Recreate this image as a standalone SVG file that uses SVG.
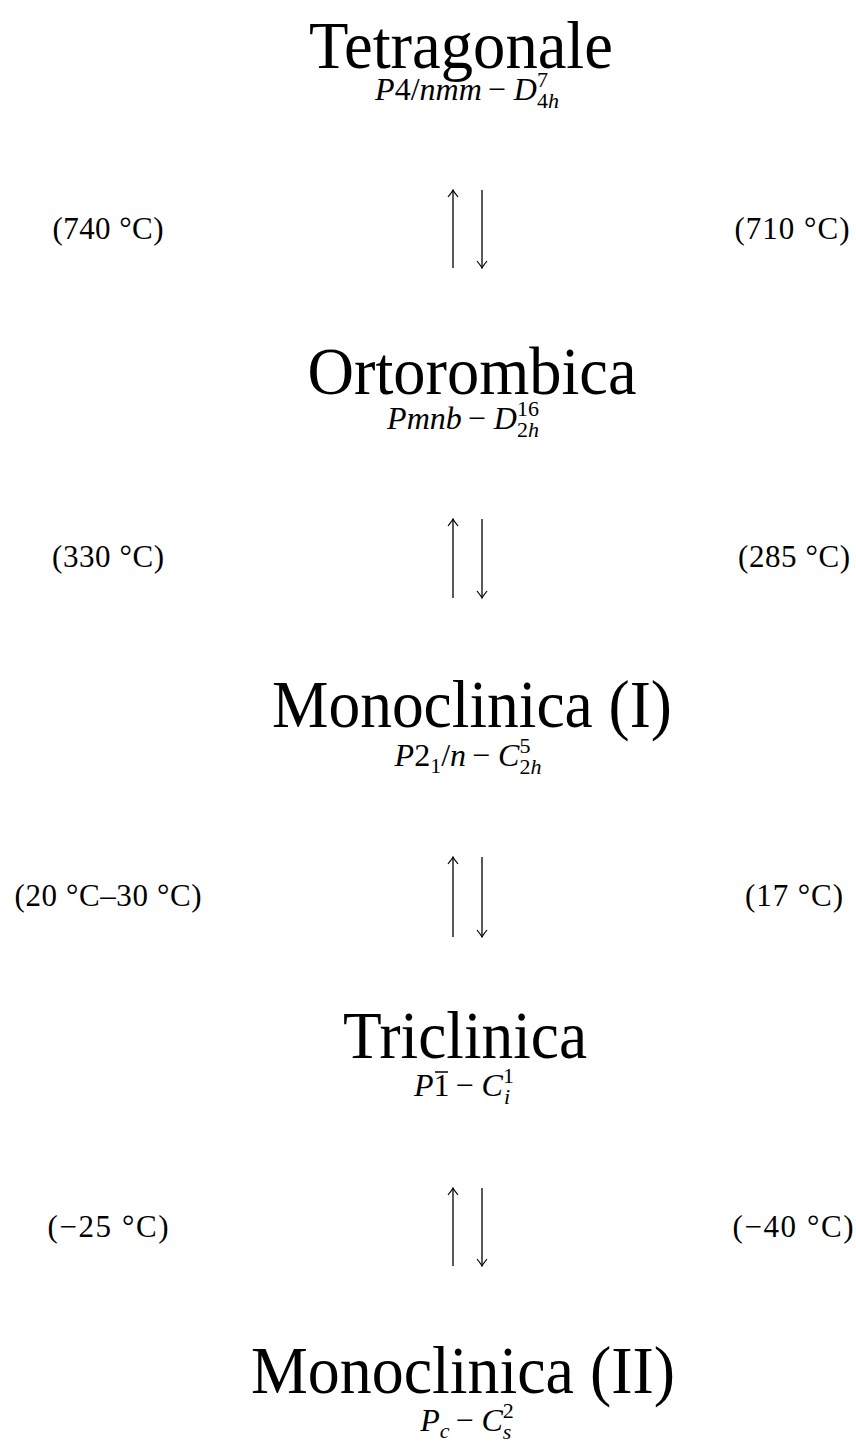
<svg xmlns="http://www.w3.org/2000/svg" width="856" height="1444" viewBox="0 0 856 1444">
<style>
text{font-family:"Liberation Serif","Times New Roman",serif;fill:#000}
.t{font-size:68px;text-anchor:middle}
.s{font-size:32px;text-anchor:middle}
.l{font-size:31px;text-anchor:middle}
.i{font-style:italic}
.sm{font-size:22px}
.arr{stroke:#000;stroke-width:1.3;fill:none}
</style>
<defs>
<marker id="ah" viewBox="-8 -6 10 12" markerWidth="10" markerHeight="12" refX="0" refY="0" orient="auto" markerUnits="userSpaceOnUse">
<path d="M-7,-5 Q-2,-1 0,0 Q-2,1 -7,5" fill="none" stroke="#000" stroke-width="1.2"/>
</marker>
</defs>
<rect width="856" height="1444" fill="#fff"/>

<g id="tetragonale">
<text class="t" x="461" y="68" textLength="304" lengthAdjust="spacingAndGlyphs">Tetragonale</text>
<text class="s" x="467" y="100"><tspan class="i">P</tspan>4/<tspan class="i">nmm</tspan><tspan dx="6">−</tspan><tspan class="i" dx="8">D</tspan><tspan class="sm" dy="-13">7</tspan><tspan class="sm" dx="-11" dy="21">4<tspan class="i">h</tspan></tspan></text>
</g>

<g id="ortorombica">
<text class="t" x="472" y="394" textLength="329" lengthAdjust="spacingAndGlyphs">Ortorombica</text>
<text class="s" x="463" y="429"><tspan class="i">Pmnb</tspan><tspan dx="6">−</tspan><tspan class="i" dx="8">D</tspan><tspan class="sm" dy="-13">16</tspan><tspan class="sm" dx="-22" dy="21">2<tspan class="i">h</tspan></tspan></text>
</g>

<g id="monoclinica1">
<text class="t" x="472" y="727" textLength="400" lengthAdjust="spacingAndGlyphs">Monoclinica (I)</text>
<text class="s" x="468" y="766"><tspan class="i">P</tspan>2<tspan class="sm" dy="7">1</tspan><tspan dy="-7">/</tspan><tspan class="i">n</tspan><tspan dx="6">−</tspan><tspan class="i" dx="8">C</tspan><tspan class="sm" dy="-13">5</tspan><tspan class="sm" dx="-11" dy="21">2<tspan class="i">h</tspan></tspan></text>
</g>

<g id="triclinica">
<text class="t" x="465" y="1058" textLength="244" lengthAdjust="spacingAndGlyphs">Triclinica</text>
<text x="414" y="1096" font-size="32"><tspan class="i">P</tspan>1<tspan dx="6">−</tspan><tspan class="i" dx="8">C</tspan><tspan class="sm" dy="-13">1</tspan><tspan class="sm i" dx="-10" dy="21">i</tspan></text>
<line x1="435" y1="1072" x2="448" y2="1072" stroke="#000" stroke-width="1.5"/>
</g>

<g id="monoclinica2">
<text class="t" x="463" y="1393" textLength="424" lengthAdjust="spacingAndGlyphs">Monoclinica (II)</text>
<text class="s" x="467" y="1431"><tspan class="i">P</tspan><tspan class="sm i" dy="7">c</tspan><tspan dy="-7" dx="6">−</tspan><tspan class="i" dx="8">C</tspan><tspan class="sm" dy="-13">2</tspan><tspan class="sm i" dx="-11" dy="21">s</tspan></text>
</g>

<g id="connectors">
<line class="arr" x1="453" y1="268" x2="453" y2="190" marker-end="url(#ah)"/>
<line class="arr" x1="482" y1="190" x2="482" y2="268" marker-end="url(#ah)"/>
<line class="arr" x1="453" y1="598" x2="453" y2="519" marker-end="url(#ah)"/>
<line class="arr" x1="482" y1="519" x2="482" y2="598" marker-end="url(#ah)"/>
<line class="arr" x1="453" y1="937" x2="453" y2="857" marker-end="url(#ah)"/>
<line class="arr" x1="482" y1="857" x2="482" y2="937" marker-end="url(#ah)"/>
<line class="arr" x1="453" y1="1266" x2="453" y2="1188" marker-end="url(#ah)"/>
<line class="arr" x1="482" y1="1188" x2="482" y2="1266" marker-end="url(#ah)"/>
</g>

<g id="labels">
<text class="l" x="108" y="239" textLength="111">(740 °C)</text>
<text class="l" x="792" y="239" textLength="115">(710 °C)</text>
<text class="l" x="108" y="567" textLength="112">(330 °C)</text>
<text class="l" x="794" y="567" textLength="112">(285 °C)</text>
<text class="l" x="108" y="906" textLength="187">(20 °C–30 °C)</text>
<text class="l" x="794" y="906" textLength="98">(17 °C)</text>
<text class="l" x="108" y="1237" textLength="121">(−25 °C)</text>
<text class="l" x="793" y="1237" textLength="121">(−40 °C)</text>
</g>
</svg>
